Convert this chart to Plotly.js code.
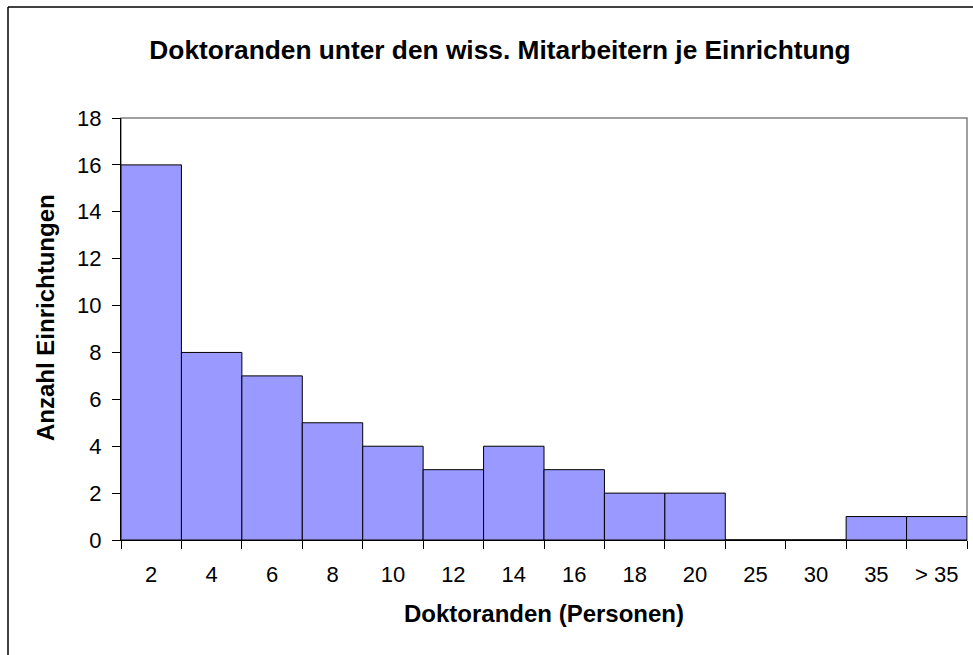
<!DOCTYPE html>
<html>
<head>
<meta charset="utf-8">
<script src="https://cdn.plot.ly/plotly-3.0.1.min.js"></script>
<style>
html,body{margin:0;padding:0;background:#fff;}
#chart{width:973px;height:655px;}
</style>
</head>
<body>
<div id="chart"></div>
<script>
const categories = ["2","4","6","8","10","12","14","16","18","20","25","30","35","> 35"];
const counts = [16,8,7,5,4,3,4,3,2,2,0,0,1,1];
const chartTitle = "Doktoranden unter den wiss. Mitarbeitern je Einrichtung";
const xTitle = "Doktoranden (Personen)";
const yTitle = "Anzahl Einrichtungen";

const W = 973, H = 655;
const mL = 121, mR = 6, mT = 118, mB = 115;
const pw = W - mL - mR, ph = H - mT - mB;
const px = v => (v - mL) / pw;
const py = v => 1 - (v - mT) / ph;

const FONT = "Liberation Sans, Arial, sans-serif";

const trace = {
  type: "bar",
  x: categories,
  y: counts,
  width: 1,
  marker: {color: "#9999FF", line: {color: "#000000", width: 1}},
  hoverinfo: "x+y"
};

const layout = {
  width: W, height: H,
  margin: {l: mL, r: mR, t: mT, b: mB, pad: 0},
  paper_bgcolor: "#ffffff",
  plot_bgcolor: "#ffffff",
  font: {family: FONT, color: "#000000", size: 22},
  showlegend: false,
  bargap: 0,
  title: {
    text: "<b>" + chartTitle + "</b>",
    font: {family: FONT, size: 26.3, color: "#000"},
    x: 500 / W, xref: "container", xanchor: "center",
    y: 1 - 50 / H, yref: "container", yanchor: "middle"
  },
  xaxis: {
    type: "category",
    tickson: "boundaries",
    ticks: "outside", ticklen: 8, tickcolor: "#000", tickwidth: 1,
    ticklabelstandoff: 15,
    showline: true, linecolor: "#000", linewidth: 1,
    showgrid: false, zeroline: false,
    tickfont: {family: FONT, size: 22, color: "#000"},
    range: [-0.5, categories.length - 0.5],
    title: {text: "<b>" + xTitle + "</b>", font: {family: FONT, size: 24, color: "#000"}, standoff: 18},
    fixedrange: true
  },
  yaxis: {
    range: [0, 18], dtick: 2, tick0: 0,
    ticks: "outside", ticklen: 8, tickcolor: "#000", tickwidth: 1,
    ticklabelstandoff: 6,
    showline: true, linecolor: "#000", linewidth: 1,
    showgrid: false, zeroline: false,
    tickfont: {family: FONT, size: 22, color: "#000"},
    fixedrange: true
  },
  annotations: [
    {text: "<b>" + yTitle + "</b>", textangle: -90, showarrow: false,
     xref: "paper", yref: "paper", x: px(45), y: py(318), xanchor: "center", yanchor: "middle",
     font: {family: FONT, size: 24, color: "#000"}}
  ],
  shapes: [
    {type: "rect", xref: "paper", yref: "paper", x0: 0, x1: 1, y0: 0, y1: 1,
     line: {color: "#808080", width: 1.5}, layer: "below"},
    {type: "line", xref: "paper", yref: "paper", x0: px(8), x1: px(8), y0: py(7), y1: py(H + 10),
     line: {color: "#000", width: 1.5}},
    {type: "line", xref: "paper", yref: "paper", x0: px(8), x1: px(W + 10), y0: py(7), y1: py(7),
     line: {color: "#000", width: 1.5}}
  ]
};

Plotly.newPlot("chart", [trace], layout, {displayModeBar: false, staticPlot: true});
</script>
</body>
</html>
